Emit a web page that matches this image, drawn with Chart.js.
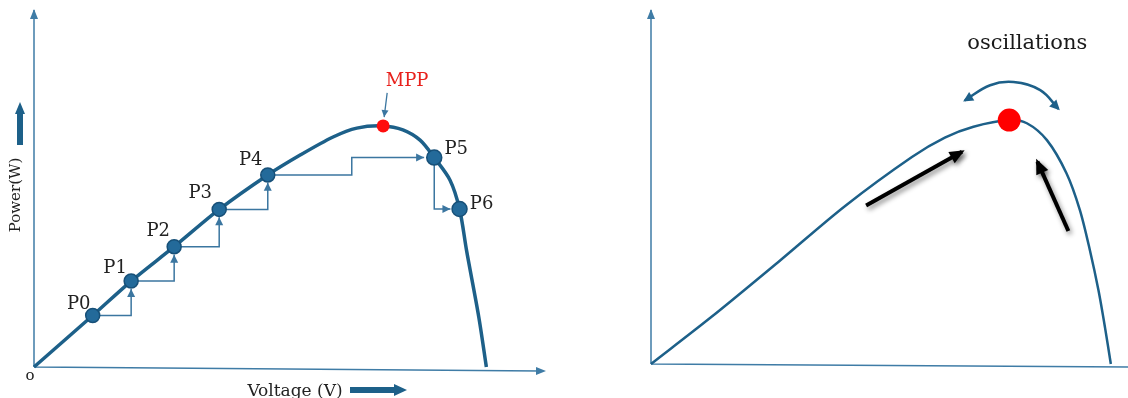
<!DOCTYPE html>
<html>
<head>
<meta charset="utf-8">
<script src="https://cdn.jsdelivr.net/npm/chart.js@4.4.0/dist/chart.umd.min.js"></script>
<style>
  body { margin: 0; background: #fff; width: 1128px; height: 398px; position: relative; overflow: hidden; }
  #pvLeft { position: absolute; left: 0; top: 0; }
  #pvRight { position: absolute; left: 600px; top: 0; }
</style>
</head>
<body>
<canvas id="pvLeft" width="560" height="398"></canvas>
<canvas id="pvRight" width="528" height="398"></canvas>
<script>
// ---- left panel: P-V curve with perturb & observe steps ----
const pvVoltage = [0, 11.6, 19.2, 27.7, 36.6, 46.2, 52.6, 59.1, 63.8, 69.0, 72.9, 76.3, 79.1, 82.2, 84.1, 85.5, 87.9, 89.4];
const pvPower   = [0, 14.5, 24.2, 33.9, 44.4, 54.1, 59.7, 64.8, 67.3, 67.9, 66.8, 63.9, 59.0, 52.7, 44.5, 32.7, 14.1, 0];

const stepNames   = ['P0', 'P1', 'P2', 'P3', 'P4', 'P5', 'P6'];
const stepVoltage = [11.6, 19.2, 27.7, 36.6, 46.2, 79.1, 84.1];
const stepPower   = [14.5, 24.2, 33.9, 44.4, 54.1, 59.0, 44.5];

// perturbation moves between operating points [voltage, power]
const moves = [
  [[11.6, 14.5], [19.2, 14.5], [19.2, 22.0]],
  [[19.2, 24.2], [27.7, 24.2], [27.7, 31.6]],
  [[27.7, 33.9], [36.6, 33.9], [36.6, 42.2]],
  [[36.6, 44.4], [46.2, 44.4], [46.2, 51.9]],
  [[46.2, 54.1], [62.8, 54.1], [62.8, 59.0], [77.1, 59.0]],
  [[79.1, 59.0], [79.1, 44.5], [82.3, 44.5]]
];

const mppLeft = [69.0, 67.9];
const mppPointer = [[69.8, 77.2], [69.2, 70.4]];

// ---- right panel: oscillation around MPP ----
const rVoltage = [0, 12.7, 26.7, 40.7, 54.7, 61.6, 67.6, 75.1, 78.8, 83.0, 87.1, 89.9, 92.0, 93.8, 95.2, 96.4];
const rPower   = [0, 13.4, 29.0, 44.9, 58.8, 64.3, 67.4, 69.3, 68.4, 63.6, 54.2, 43.8, 32.4, 21.0, 10.2, 0];
const mppRight = [75.1, 69.3];
const climbLeft  = [[45.1, 45.0], [65.2, 60.3]];
const climbRight = [[87.5, 37.8], [81.0, 57.5]];
const oscArc = [[65.8, 74.9], [71.1, 79.2], [76.0, 80.1], [81.6, 77.8], [85.4, 72.5]];

const curveBlue = '#1d6089';
const axisBlue = '#3f7ca6';
const stepBlue = '#3b76a0';
const serif = '"DejaVu Serif", "Liberation Serif", serif';

const toXY = (xs, ys) => xs.map((x, i) => ({ x: x, y: ys[i] }));
const pairs = arr => arr.map(p => ({ x: p[0], y: p[1] }));

function arrowHead(ctx, fx, fy, tx, ty, len, half, color) {
  const a = Math.atan2(ty - fy, tx - fx);
  const c = Math.cos(a), s = Math.sin(a);
  ctx.fillStyle = color;
  ctx.beginPath();
  ctx.moveTo(tx, ty);
  ctx.lineTo(tx - len * c + half * s, ty - len * s - half * c);
  ctx.lineTo(tx - len * c - half * s, ty - len * s + half * c);
  ctx.closePath();
  ctx.fill();
}

// draws heads at ends of datasets that ask for them
const arrowsPlugin = {
  id: 'arrows',
  afterDatasetsDraw(chart) {
    const ctx = chart.ctx;
    chart.data.datasets.forEach((ds, i) => {
      if (!ds.headEnd && !ds.headStart) return;
      const pts = chart.getDatasetMeta(i).data;
      const n = pts.length;
      ctx.save();
      if (ds.shadow) {
        ctx.shadowColor = 'rgba(0,0,0,0.45)';
        ctx.shadowBlur = 5; ctx.shadowOffsetX = 2; ctx.shadowOffsetY = 3;
      }
      const draw = (p, q, h) => {
        const d = Math.hypot(p.x - q.x, p.y - q.y) || 1;
        const ux = (p.x - q.x) / d, uy = (p.y - q.y) / d;
        const tx = p.x + ux * (h.ext || 0), ty = p.y + uy * (h.ext || 0);
        arrowHead(ctx, p.x - ux, p.y - uy, tx, ty, h.len, h.half, ds.borderColor);
      };
      if (ds.headEnd) {
        const p = pts[n - 1];
        const q = (p.cp1x !== undefined && (p.cp1x !== p.x || p.cp1y !== p.y)) ? { x: p.cp1x, y: p.cp1y } : pts[n - 2];
        draw(p, q, ds.headEnd);
      }
      if (ds.headStart) {
        const p = pts[0];
        const q = (p.cp2x !== undefined && (p.cp2x !== p.x || p.cp2y !== p.y)) ? { x: p.cp2x, y: p.cp2y } : pts[1];
        draw(p, q, ds.headStart);
      }
      ctx.restore();
    });
  }
};

const shadowPlugin = {
  id: 'shadow',
  beforeDatasetDraw(chart, args) {
    if (!chart.data.datasets[args.index].shadow) return;
    const ctx = chart.ctx;
    ctx.save();
    ctx.shadowColor = 'rgba(0,0,0,0.45)';
    ctx.shadowBlur = 5; ctx.shadowOffsetX = 2; ctx.shadowOffsetY = 3;
  },
  afterDatasetDraw(chart, args) {
    if (chart.data.datasets[args.index].shadow) chart.ctx.restore();
  }
};

// hand drawn looking axes with arrow tips
const axesPlugin = {
  id: 'pvAxes',
  beforeDatasetsDraw(chart, args, opts) {
    const { ctx, chartArea: a } = chart;
    ctx.save();
    ctx.strokeStyle = axisBlue;
    ctx.lineWidth = 1.5;
    ctx.beginPath();
    ctx.moveTo(a.left, a.bottom);
    ctx.lineTo(a.left, a.top - 2);
    ctx.moveTo(a.left, a.bottom);
    ctx.lineTo(a.right + opts.xOver, a.bottom + opts.xDrop);
    ctx.stroke();
    arrowHead(ctx, a.left, a.bottom, a.left, a.top - 3, 10, 4, axisBlue);
    if (opts.xHead) arrowHead(ctx, a.left, a.bottom, a.right + opts.xOver + 6, a.bottom + opts.xDrop, 10, 4, axisBlue);
    ctx.restore();
  }
};

// text labels tied to dataset points
const labelsPlugin = {
  id: 'pointLabels',
  afterDatasetsDraw(chart, args, opts) {
    const ctx = chart.ctx;
    ctx.save();
    ctx.textAlign = 'center';
    ctx.textBaseline = 'middle';
    (opts.items || []).forEach(it => {
      const p = chart.getDatasetMeta(it.dataset).data[it.index];
      ctx.font = it.font;
      ctx.fillStyle = it.color;
      ctx.fillText(it.text, p.x + it.dx, p.y + it.dy);
    });
    ctx.restore();
  }
};

// axis titles of the left panel
const titlesPlugin = {
  id: 'axisTitles',
  afterDraw(chart) {
    const { ctx, chartArea: a } = chart;
    ctx.save();
    ctx.fillStyle = '#222';
    ctx.textAlign = 'center';
    ctx.textBaseline = 'middle';
    ctx.font = '15px ' + serif;
    ctx.fillText('o', a.left - 4, a.bottom + 9);
    // Power (W) vertical
    ctx.save();
    ctx.translate(a.left - 18, a.top + 183);
    ctx.rotate(-Math.PI / 2);
    ctx.font = '15px ' + serif;
    ctx.fillText('Power(W)', 0, 0);
    ctx.restore();
    ctx.fillStyle = curveBlue;
    ctx.fillRect(a.left - 17, a.top + 100, 6, 33);
    arrowHead(ctx, a.left - 14, a.top + 120, a.left - 14, a.top + 90, 12, 5, curveBlue);
    // Voltage (V)
    ctx.fillStyle = '#222';
    ctx.font = '17px ' + serif;
    ctx.fillText('Voltage (V)', a.left + 261, a.bottom + 25);
    ctx.fillStyle = curveBlue;
    ctx.fillRect(a.left + 316, a.bottom + 20, 44, 6);
    arrowHead(ctx, a.left + 330, a.bottom + 23, a.left + 373, a.bottom + 23, 13, 6, curveBlue);
    ctx.restore();
  }
};

const baseOptions = (pad, axes, labels) => ({
  responsive: false,
  animation: false,
  layout: { padding: pad, autoPadding: false },
  plugins: {
    legend: { display: false },
    tooltip: { enabled: false },
    pvAxes: axes,
    pointLabels: { items: labels }
  },
  scales: {
    x: { type: 'linear', min: 0, max: 100, display: false },
    y: { type: 'linear', min: 0, max: 100, display: false }
  }
});

const leftLabels = stepNames.map((name, i) => ({
  dataset: 0, index: i, text: name, font: '18px ' + serif, color: '#222',
  dx: [-14, -16, -16, -19, -17, 22, 22][i],
  dy: [-11, -13, -15, -16, -15, -8, -5][i]
}));
leftLabels.push({ dataset: 1, index: 0, text: 'MPP', font: '18px ' + serif, color: '#e8211c', dx: 24, dy: -45 });

new Chart(document.getElementById('pvLeft'), {
  type: 'line',
  data: {
    datasets: [
      {
        data: toXY(stepVoltage, stepPower), showLine: false,
        pointRadius: [7, 7, 7, 7, 7, 7.5, 7.5], pointBackgroundColor: '#236a9a',
        pointBorderColor: '#175078', pointBorderWidth: 1.5
      },
      {
        data: pairs([mppLeft]), showLine: false,
        pointRadius: 6.5, pointBackgroundColor: '#ff0d0d', pointBorderColor: '#ff0d0d', pointBorderWidth: 0
      },
      {
        data: toXY(pvVoltage, pvPower), borderColor: curveBlue, borderWidth: 3.5,
        pointRadius: 0, tension: 0.3, clip: false
      },
      {
        data: pairs(mppPointer), borderColor: stepBlue, borderWidth: 1.3, pointRadius: 0,
        headEnd: { len: 7, half: 3.5 }
      }
    ].concat(moves.map(m => ({
      data: pairs(m), borderColor: stepBlue, borderWidth: 1.5, pointRadius: 0, tension: 0,
      headEnd: { len: 8, half: 4 }
    })))
  },
  options: baseOptions({ left: 34, right: 20, top: 12, bottom: 31 }, { xOver: 0, xDrop: 4, xHead: true }, leftLabels),
  plugins: [axesPlugin, arrowsPlugin, labelsPlugin, titlesPlugin]
});

new Chart(document.getElementById('pvRight'), {
  type: 'line',
  data: {
    datasets: [
      {
        data: pairs([mppRight]), showLine: false,
        pointRadius: 11.5, pointBackgroundColor: '#ff0000', pointBorderColor: '#ff0000', pointBorderWidth: 0
      },
      {
        data: toXY(rVoltage, rPower), borderColor: curveBlue, borderWidth: 2.5,
        pointRadius: 0, tension: 0.3, clip: false
      },
      {
        data: pairs(climbLeft), borderColor: '#000', borderWidth: 4, pointRadius: 0, shadow: true,
        headEnd: { len: 15, half: 6.5, ext: 3 }
      },
      {
        data: pairs(climbRight), borderColor: '#000', borderWidth: 4, pointRadius: 0, shadow: true,
        headEnd: { len: 15, half: 6.5, ext: 3 }
      },
      {
        data: pairs(oscArc), borderColor: curveBlue, borderWidth: 2.5, pointRadius: 0,
        tension: 0.4,
        headEnd: { len: 10, half: 5, ext: 2 }, headStart: { len: 10, half: 5, ext: 2 }
      }
    ]
  },
  options: baseOptions({ left: 51, right: 0, top: 12, bottom: 34 }, { xOver: 0, xDrop: 3, xHead: false },
    [{ dataset: 0, index: 0, text: 'oscillations', font: '21px ' + serif, color: '#1a1a1a', dx: 18, dy: -77 }]),
  plugins: [axesPlugin, shadowPlugin, arrowsPlugin, labelsPlugin]
});
</script>
</body>
</html>
